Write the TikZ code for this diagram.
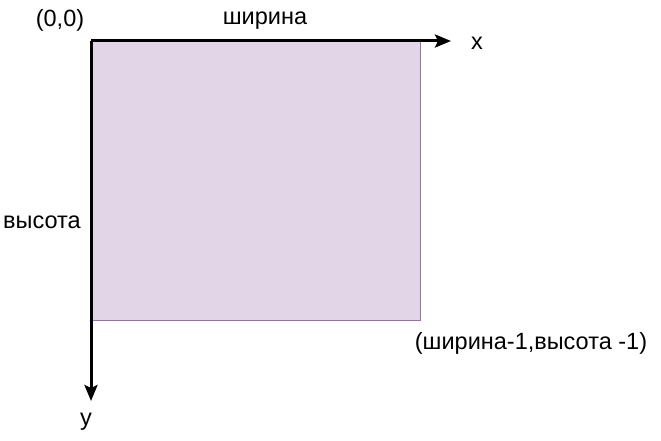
\documentclass[tikz,border=0pt]{standalone}
\usepackage{fontspec}
\setmainfont{Liberation Sans}
\usetikzlibrary{arrows.meta}
\definecolor{boxfill}{HTML}{E1D5E7}
\definecolor{boxline}{HTML}{9673A6}
\newcommand\lblfont{\fontsize{23.5pt}{28pt}\selectfont}
\begin{document}
\begin{tikzpicture}[x=1pt,y=-1pt,
  lbl/.style={inner sep=0pt,font=\lblfont},
  axis/.style={line width=3pt,-{Stealth[length=16pt,width=13pt,inset=3pt]}}]
\useasboundingbox (0,0) rectangle (661,441);
\node[draw=boxline,fill=boxfill,line width=0.9pt,minimum width=329pt,minimum height=279pt,inner sep=0pt,anchor=north west] (area) at (91,41) {};
\coordinate (o) at (91,41);
\coordinate (xe) at (451,41);
\coordinate (ye) at (91,401);
\draw[axis] (o) -- (xe);
\draw[axis] (o) -- (ye);
\node[lbl] (orig) at (60,20) {(0,0)};
\node[lbl] (w) at (265,21) {ширина};
\node[lbl] (xl) at (477,43) {x};
\node[lbl] (yl) at (86,422) {y};
\node[lbl] (h) at (42,222) {высота};
\node[lbl] (corner) at (531,343) {(ширина-1,высота -1)};
\end{tikzpicture}
\end{document}
